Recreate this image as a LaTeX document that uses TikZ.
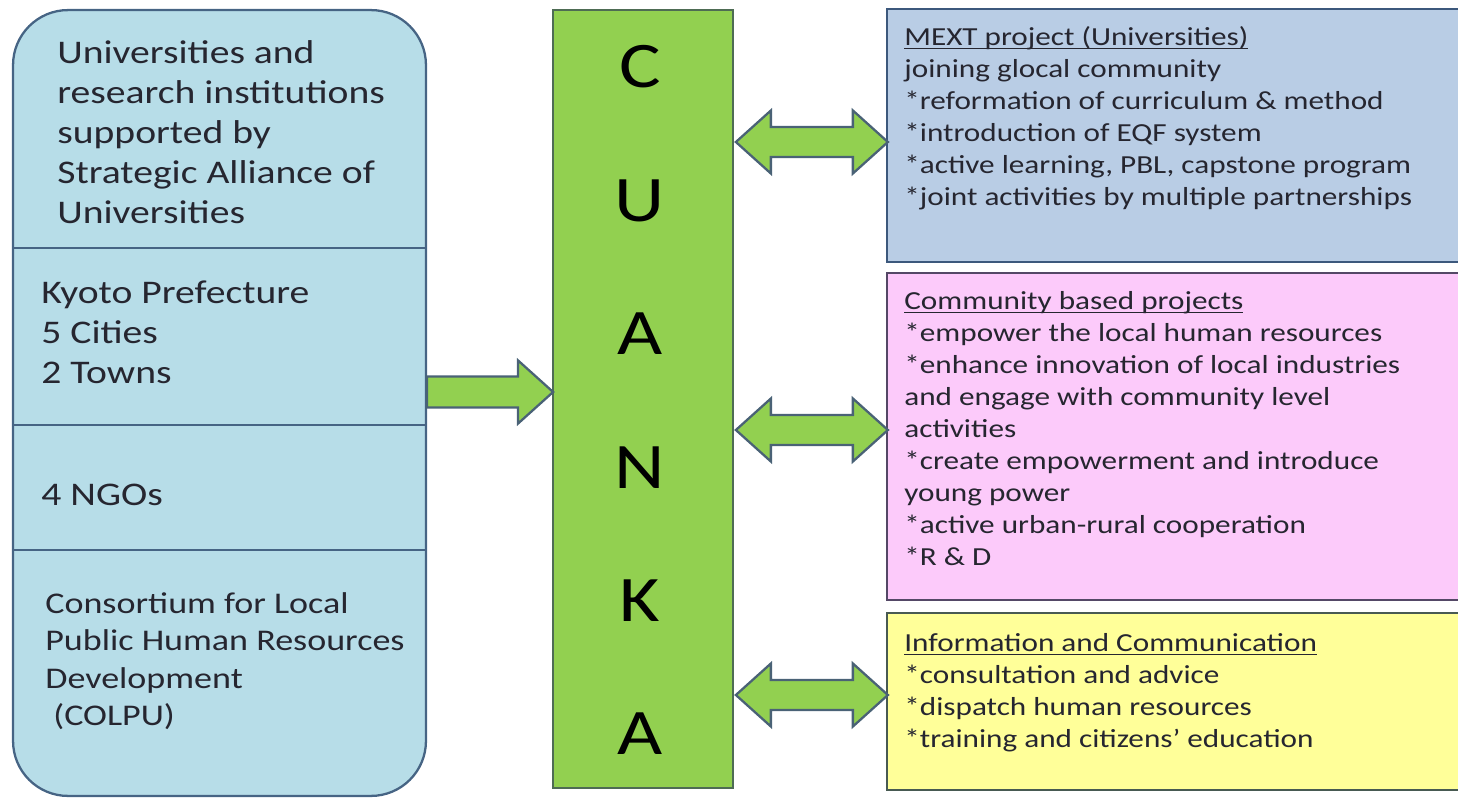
\documentclass[tikz,border=0pt]{standalone}
\usepackage{amsmath}
\usepackage{fontspec}
\usepackage{xcolor}
\usepackage{tikz}
\usetikzlibrary{positioning, calc}

\setmainfont{Carlito}[FakeStretch=1.2]

\definecolor{srcfill}{RGB}{183,221,232}
\definecolor{srcline}{RGB}{70,100,132}
\definecolor{hubfill}{RGB}{146,208,80}
\definecolor{hubline}{RGB}{78,108,84}
\definecolor{arrline}{RGB}{74,98,118}
\definecolor{mextfill}{RGB}{185,205,229}
\definecolor{mextline}{RGB}{60,88,124}
\definecolor{commfill}{RGB}{252,202,250}
\definecolor{commline}{RGB}{84,72,102}
\definecolor{infofill}{RGB}{255,255,153}
\definecolor{infoline}{RGB}{72,90,82}
\definecolor{txt}{RGB}{38,38,48}

\newcommand{\ttl}[1]{\underline{\smash[b]{#1}}}

% block arrows, drawn from their left end
\tikzset{
  arrowbody/.style={draw=arrline, fill=hubfill, line width=1.3pt, line join=miter},
  pics/feed/.style={code={
    \path[arrowbody] (0,-15.5) -- (91,-15.5) -- (91,-31.5) -- (126,0)
      -- (91,31.5) -- (91,15.5) -- (0,15.5) -- cycle;}},
  pics/link/.style={code={
    \path[arrowbody] (0,0) -- (35,-31.5) -- (35,-15) -- (117,-15) -- (117,-31.5)
      -- (152,0) -- (117,31.5) -- (117,15) -- (35,15) -- (35,31.5) -- cycle;}}
}

\begin{document}
\begin{tikzpicture}[x=0.02cm, y=-0.02cm,
    box/.style={draw, line width=1.3pt, inner sep=0pt},
    srcbox/.style={box, draw=srcline, fill=srcfill, rounded corners=1.1cm},
    hubbox/.style={box, draw=hubline, fill=hubfill},
    mextbox/.style={box, draw=mextline, fill=mextfill},
    commbox/.style={box, draw=commline, fill=commfill},
    infobox/.style={box, draw=infoline, fill=infofill},
    divider/.style={draw=srcline, line width=1.1pt},
    big/.style={anchor=north west, inner sep=0pt, align=left, text=txt,
      font=\fontsize{18.8}{22.8}\selectfont},
    mid/.style={big, font=\fontsize{17.1}{21.3}\selectfont},
    small/.style={big, font=\fontsize{14.8}{18.2}\selectfont},
    letter/.style={inner sep=0pt, text=black, font=\fontsize{37}{40}\selectfont}]
  \useasboundingbox (0,0) rectangle (1458,798);

  % partners on the left
  \node[srcbox, minimum width=8.26cm, minimum height=15.72cm] (src) at (219.5,403) {};
  \draw[divider] (13,248) -- (426,248);
  \draw[divider] (13,425) -- (426,425);
  \draw[divider] (13,550) -- (426,550);
  \node[big] (uni) at (57,40)
    {Universities and\\research institutions\\supported by\\Strategic Alliance of\\Universities};
  \node[big] (pref) at (41,280) {Kyoto Prefecture\\5 Cities\\2 Towns};
  \node[big] (ngo) at (41,484) {4 NGOs};
  \node[mid] (colpu) at (45,592)
    {Consortium for Local\\Public Human Resources\\Development\\\hspace*{0.16cm}(COLPU)};

  % CUANKA column
  \node[hubbox, minimum width=3.6cm, minimum height=15.56cm] (hub) at (643,399) {};
  \foreach \ch [count=\i] in {C,U,A,N,K,A}
    \node[letter] (ch\i) at (640,{67+133.4*(\i-1)}) {\ch};

  % activities on the right
  \node[mextbox, minimum width=11.5cm, minimum height=5.06cm] (mext) at (1174.5,135.5) {};
  \node[commbox, minimum width=11.5cm, minimum height=6.54cm] (comm) at (1174.5,436.5) {};
  \node[infobox, minimum width=11.5cm, minimum height=3.54cm] (info) at (1174.5,701.5) {};

  \node[small] (mextTxt) at (904,26)
    {\ttl{MEXT project (Universities)}\\joining glocal community\\
     *reformation of curriculum \& method\\*introduction of EQF system\\
     *active learning, PBL, capstone program\\*joint activities by multiple partnerships};
  \node[small] (commTxt) at (904,291)
    {\ttl{Community based projects}\\*empower the local human resources\\
     *enhance innovation of local industries\\and engage with community level\\activities\\
     *create empowerment and introduce\\young power\\*active urban-rural cooperation\\*R \& D};
  \node[small] (infoTxt) at (904,633)
    {\ttl{Information and Communication}\\*consultation and advice\\
     *dispatch human resources\\*training and citizens’ education};

  % block arrows between the columns
  \pic at (src.east |- 0,392) {feed};
  \pic at ([xshift=1pt]hub.east |- 0,142) {link};
  \pic at ([xshift=1pt]hub.east |- 0,430) {link};
  \pic at ([xshift=1pt]hub.east |- 0,695) {link};
\end{tikzpicture}
\end{document}
